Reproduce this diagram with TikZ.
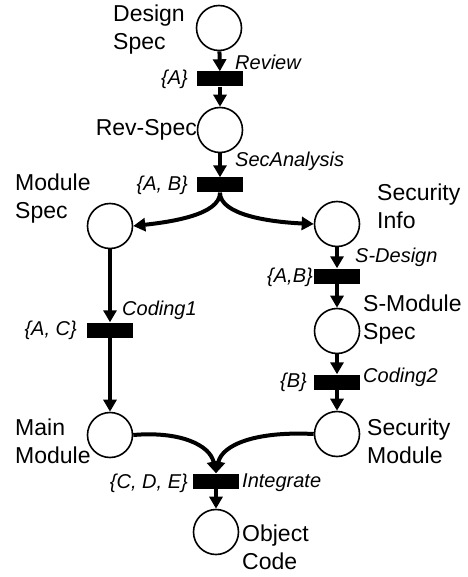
\documentclass[tikz,border=0pt]{standalone}
\usepackage{fontspec}
\setmainfont{Liberation Sans}
\usetikzlibrary{arrows.meta}

\tikzset{
  place/.style={draw, circle, line width=1.6pt, minimum size=45pt, inner sep=0pt},
  trans/.style={fill=black, minimum width=46pt, minimum height=15pt, inner sep=0pt},
  arc/.style={line width=4pt, -{Triangle[length=12pt,width=13pt]}},
  pname/.style={inner sep=0pt, align=left, font=\fontsize{23}{28}\selectfont},
  tname/.style={inner sep=0pt, font=\fontsize{20}{24}\selectfont\itshape}
}

\begin{document}
\begin{tikzpicture}[x=1pt, y=-1pt]
    \useasboundingbox (0,0) rectangle (467,577);
    % places
    \node[place] (D) at (219,28) {};
    \node[place] (R) at (220,130) {};
    \node[place] (M) at (110,226) {};
    \node[place] (S) at (337,224) {};
    \node[place] (SM) at (337,331) {};
    \node[place] (MM) at (110,435) {};
    \node[place] (SecM) at (337,434) {};
    \node[place] (O) at (216,532) {};
    % transitions
    \node[trans] (t1) at (220,79) {};
    \node[trans] (t2) at (220,185) {};
    \node[trans] (t3) at (337,276) {};
    \node[trans] (t4) at (110,330) {};
    \node[trans] (t5) at (337,382) {};
    \node[trans] (t6) at (216,481) {};

    \node[pname, anchor=west] at (113,30) {Design\\Spec};
    \node[pname, anchor=east] at (197,130) {Rev-Spec};
    \node[pname, anchor=west] at (15,199) {Module\\Spec};
    \node[pname, anchor=west] at (377,206) {Security\\Info};
    \node[pname, anchor=west] at (363,320) {S-Module\\Spec};
    \node[pname, anchor=west] at (15,441) {Main\\Module};
    \node[pname, anchor=west] at (367,441) {Security\\Module};
    \node[pname, anchor=west] at (242,547) {Object\\Code};

    \node[tname, anchor=west] at (235,62) {Review};
    \node[tname, anchor=east] at (188,79) {\{A\}};
    \node[tname, anchor=west] at (235,161) {SecAnalysis};
    \node[tname, anchor=east] at (188,185) {\{A, B\}};
    \node[tname, anchor=west] at (355,257) {S-Design};
    \node[tname, anchor=east] at (313,277) {\{A,B\}};
    \node[tname, anchor=west] at (122,310) {Coding1};
    \node[tname, anchor=east] at (77,330) {\{A, C\}};
    \node[tname, anchor=west] at (363,377) {Coding2};
    \node[tname, anchor=east] at (307,382) {\{B\}};
    \node[tname, anchor=east] at (188,483) {\{C, D, E\}};
    \node[tname, anchor=west] at (242,483) {Integrate};

    \draw[arc] (D) -- (t1);
    \draw[arc] (t1) -- (R);
    \draw[arc] (R) -- (t2);
    \draw[arc] (t2.south) .. controls (220,215) and (170,222) .. (M.east);
    \draw[arc] (t2.south) .. controls (220,215) and (270,222) .. (S.west);
    \draw[arc] (M) -- (t4);
    \draw[arc] (t4) -- (MM);
    \draw[arc] (S) -- (t3);
    \draw[arc] (t3) -- (SM);
    \draw[arc] (SM) -- (t5);
    \draw[arc] (t5) -- (SecM);
    \draw[arc] (MM.east) .. controls (180,431) and (210,445) .. (t6.north);
    \draw[arc] (SecM.west) .. controls (255,431) and (222,445) .. (t6.north);
    \draw[arc] (t6) -- (O);
  \end{tikzpicture}
\end{document}
